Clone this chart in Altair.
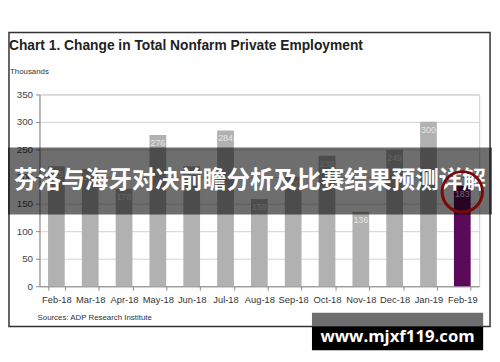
import altair as alt
import pandas as pd

# ---- data ----
months = ["Feb-18", "Mar-18", "Apr-18", "May-18", "Jun-18", "Jul-18", "Aug-18",
          "Sep-18", "Oct-18", "Nov-18", "Dec-18", "Jan-19", "Feb-19"]
values = [219, 214, 178, 276, 219, 284, 159, 200, 238, 136, 249, 300, 183]
highlight = ["Feb-19"]

title_text = "Chart 1. Change in Total Nonfarm Private Employment"
unit_text = "Thousands"
source_text = "Sources: ADP Research Institute"
banner_text = "芬洛与海牙对决前瞻分析及比赛结果预测详解"
watermark_text = "www.mjxf119.com"
y_ticks = [0, 50, 100, 150, 200, 250, 300, 350]

SANS = "Liberation Sans, Arial, Helvetica"

df = pd.DataFrame({
    "month": months,
    "value": values,
    "kind": ["hi" if m in highlight else "base" for m in months],
})
one = pd.DataFrame({"k": [0]})

W, H = 447, 195

xaxis = alt.Axis(labelAngle=0, tickBand="extent", tickSize=4,
                 labelPadding=5, domainColor="#8a8a8a", tickColor="#8a8a8a",
                 labelFont=SANS, labelFontSize=9.5, labelColor="#333333",
                 grid=False, labelOverlap=False)
xscale = alt.Scale(paddingInner=0.5, paddingOuter=0.25)
yaxis = alt.Axis(values=y_ticks, tickSize=4, labelPadding=3, labelOverlap=False,
                 domainColor="#8a8a8a", tickColor="#8a8a8a", grid=True,
                 gridColor="#d2d2d2", labelFont=SANS, labelFontSize=10,
                 labelColor="#444444")
yscale = alt.Scale(domain=[0, 350], nice=False)

xenc = alt.X("month:N", sort=months, title="", scale=xscale, axis=xaxis)
yenc = alt.Y("value:Q", title="", scale=yscale, axis=yaxis)

frame = alt.Chart(one).mark_rect(fillOpacity=0, stroke="#333333", strokeWidth=1.5).encode(
    x=alt.value(-31), x2=alt.value(458), y=alt.value(-63), y2=alt.value(236))

bars = alt.Chart(df).mark_bar(size=17).encode(
    x=xenc,
    y=yenc,
    color=alt.Color("kind:N", legend=None,
                    scale=alt.Scale(domain=["base", "hi"], range=["#b1b1b1", "#5a0a58"])),
)

labels = alt.Chart(df).mark_text(baseline="top", dy=4, font=SANS, fontSize=9,
                                 color="#e6e6e6").encode(
    x=xenc, y=yenc, text="value:Q")

title = alt.Chart(pd.DataFrame({"t": [title_text]})).mark_text(
    align="left", baseline="alphabetic", font=SANS, fontSize=14, fontWeight="bold",
    color="#222222").encode(text="t:N", x=alt.value(-31), y=alt.value(-45))

unit = alt.Chart(pd.DataFrame({"t": [unit_text]})).mark_text(
    align="left", baseline="alphabetic", font=SANS, fontSize=8,
    color="#333333").encode(text="t:N", x=alt.value(-30), y=alt.value(-21))

source = alt.Chart(pd.DataFrame({"t": [source_text]})).mark_text(
    align="left", baseline="alphabetic", font=SANS, fontSize=8,
    color="#333333").encode(text="t:N", x=alt.value(-2), y=alt.value(229))

banner = alt.Chart(one).mark_rect(fill="black", opacity=0.57).encode(
    x=alt.value(-32), x2=alt.value(460), y=alt.value(54), y2=alt.value(122))

banner_t = alt.Chart(pd.DataFrame({"t": [banner_text]})).mark_text(
    align="center", baseline="middle", font="Noto Sans CJK SC", fontSize=24,
    fontWeight="bold", color="white").encode(text="t:N", x=alt.value(214), y=alt.value(88))

circle = alt.Chart(df[df["kind"] == "hi"]).mark_point(
    shape="circle", size=1681, filled=False, stroke="#7a0808", strokeWidth=3,
    opacity=1).encode(x=xenc, y=alt.value(99))

wm_gray = alt.Chart(one).mark_rect(fill="#6e6e6e").encode(
    x=alt.value(277), x2=alt.value(451), y=alt.value(222), y2=alt.value(236))
wm_black = alt.Chart(one).mark_rect(fill="black").encode(
    x=alt.value(277), x2=alt.value(451), y=alt.value(236), y2=alt.value(260))
wm_text = alt.Chart(pd.DataFrame({"t": [watermark_text]})).mark_text(
    align="center", baseline="middle", font="Open Sans", fontSize=17, fontWeight="bold",
    color="white").encode(text="t:N", x=alt.value(364), y=alt.value(247))

chart = alt.layer(
    frame, bars, labels, title, unit, source, banner, banner_t, circle,
    wm_gray, wm_black, wm_text
).properties(
    width=W, height=H,
    autosize=alt.AutoSizeParams(type="none"),
    padding={"left": 32, "top": 85, "right": 13, "bottom": 66},
    background="white",
).configure_view(stroke="#cccccc", strokeWidth=1)

chart.save("out.html", embed_options={"renderer": "svg", "actions": False})
